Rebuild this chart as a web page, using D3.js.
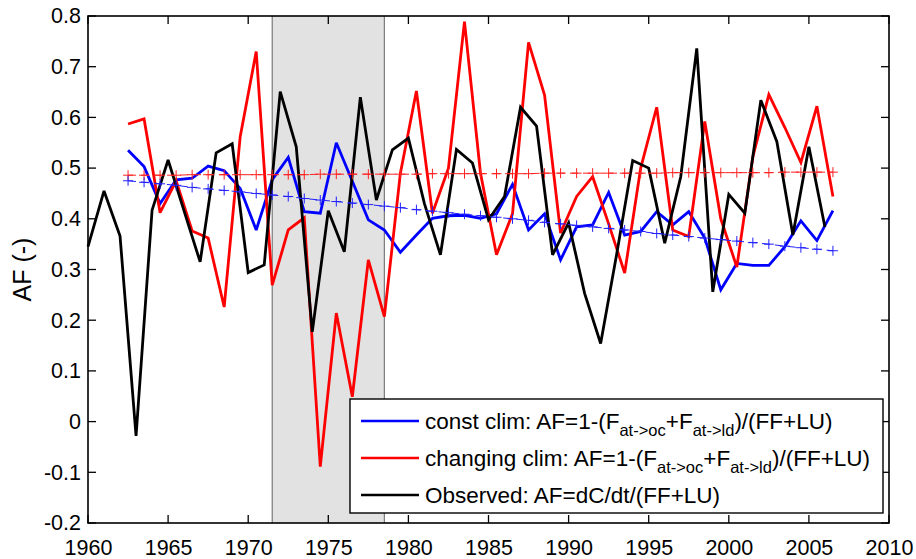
<!DOCTYPE html>
<html>
<head>
<meta charset="utf-8">
<script src="https://cdn.jsdelivr.net/npm/d3@7/dist/d3.min.js"></script>
<style>
  html, body { margin: 0; padding: 0; background: #fff; }
  svg { display: block; }
  text { font-family: "Liberation Sans", Arial, Helvetica, sans-serif; fill: #000; }
</style>
</head>
<body>
<svg id="chart" width="916" height="559"></svg>
<script>
// ---------------- data ----------------
const obsYears = d3.range(1960, 2007);           // integer years 1960..2006
const observed = [0.345, 0.455, 0.366, -0.028, 0.417, 0.516, 0.415, 0.315, 0.530, 0.548,
                  0.294, 0.309, 0.651, 0.542, 0.177, 0.416, 0.335, 0.640, 0.437, 0.536,
                  0.559, 0.430, 0.329, 0.537, 0.510, 0.398, 0.444, 0.620, 0.583, 0.329,
                  0.392, 0.253, 0.154, 0.330, 0.515, 0.500, 0.352, 0.483, 0.736, 0.256,
                  0.448, 0.411, 0.634, 0.552, 0.368, 0.542, 0.384];

const modelYears = d3.range(1962.5, 2007, 1);    // 1962.5..2006.5
const constClim = [0.535, 0.503, 0.430, 0.477, 0.480, 0.504, 0.495, 0.460, 0.378, 0.477,
                   0.521, 0.414, 0.411, 0.550, 0.474, 0.398, 0.378, 0.334, 0.368, 0.401,
                   0.406, 0.407, 0.401, 0.410, 0.468, 0.378, 0.410, 0.319, 0.384, 0.388,
                   0.452, 0.368, 0.375, 0.414, 0.388, 0.414, 0.362, 0.260, 0.312, 0.308,
                   0.308, 0.345, 0.396, 0.357, 0.416];
const changingClim = [0.587, 0.597, 0.412, 0.475, 0.376, 0.362, 0.226, 0.562, 0.730, 0.269,
                      0.378, 0.402, -0.089, 0.214, 0.049, 0.319, 0.207, 0.490, 0.652, 0.411,
                      0.500, 0.789, 0.490, 0.329, 0.410, 0.748, 0.644, 0.372, 0.444, 0.483,
                      0.390, 0.293, 0.500, 0.620, 0.378, 0.365, 0.592, 0.400, 0.305, 0.522,
                      0.645, 0.580, 0.511, 0.622, 0.444];
const constTrend = [0.475, 0.472, 0.469, 0.466, 0.462, 0.459, 0.456, 0.453, 0.450, 0.447,
                    0.444, 0.440, 0.437, 0.434, 0.431, 0.428, 0.425, 0.422, 0.418, 0.415,
                    0.412, 0.409, 0.406, 0.403, 0.400, 0.397, 0.393, 0.390, 0.387, 0.384,
                    0.381, 0.378, 0.375, 0.371, 0.368, 0.365, 0.362, 0.359, 0.356, 0.353,
                    0.350, 0.346, 0.343, 0.340, 0.337];
const changingTrend = [0.486, 0.486, 0.486, 0.486, 0.487, 0.487, 0.487, 0.487, 0.487, 0.487,
                       0.487, 0.487, 0.488, 0.488, 0.488, 0.488, 0.488, 0.488, 0.488, 0.489,
                       0.489, 0.489, 0.489, 0.489, 0.489, 0.489, 0.490, 0.490, 0.490, 0.490,
                       0.490, 0.490, 0.490, 0.490, 0.491, 0.491, 0.491, 0.491, 0.491, 0.491,
                       0.491, 0.492, 0.492, 0.492, 0.492];
const shadeRange = [1971.5, 1978.5];
const xTicks = [1960, 1965, 1970, 1975, 1980, 1985, 1990, 1995, 2000, 2005, 2010];
const yTicks = [-0.2, -0.1, 0, 0.1, 0.2, 0.3, 0.4, 0.5, 0.6, 0.7, 0.8];
const yTickLabels = ["-0.2", "-0.1", "0", "0.1", "0.2", "0.3", "0.4", "0.5", "0.6", "0.7", "0.8"];
const yLabel = "AF (-)";

// ---------------- layout ----------------
const L = 88, R = 889, T = 16, B = 523;
const svg = d3.select("#chart");
svg.append("rect").attr("width", 916).attr("height", 559).attr("fill", "#fff");

const x = d3.scaleLinear().domain([1960, 2010]).range([L, R]);
const y = d3.scaleLinear().domain([-0.2, 0.8]).range([B, T]);

// shaded period
svg.append("rect")
  .attr("x", x(shadeRange[0])).attr("y", T)
  .attr("width", x(shadeRange[1]) - x(shadeRange[0])).attr("height", B - T)
  .attr("fill", "#e2e2e2");
shadeRange.forEach(v => {
  svg.append("line").attr("x1", x(v)).attr("x2", x(v)).attr("y1", T).attr("y2", B)
    .attr("stroke", "#7a7a7a").attr("stroke-width", 1.2);
});

const line = d3.line().x(d => x(d[0])).y(d => y(d[1]));
function series(xs, ys, color, w) {
  svg.append("path").datum(xs.map((v, i) => [v, ys[i]]))
    .attr("d", line).attr("fill", "none").attr("stroke", color)
    .attr("stroke-width", w).attr("stroke-linejoin", "miter").attr("stroke-miterlimit", 3);
}
series(modelYears, constClim, "#0000ff", 2.8);
series(modelYears, changingClim, "#ff0000", 2.8);
series(obsYears, observed, "#000000", 2.8);

function trend(xs, ys, color) {
  const pts = xs.map((v, i) => [v, ys[i]]);
  svg.append("path").datum(pts).attr("d", line).attr("fill", "none")
    .attr("stroke", color).attr("stroke-width", 1).attr("stroke-dasharray", "8,5");
  const s = 5;
  svg.append("g").selectAll("path").data(pts).join("path")
    .attr("d", d => `M${x(d[0]) - s},${y(d[1])}H${x(d[0]) + s}M${x(d[0])},${y(d[1]) - s}V${y(d[1]) + s}`)
    .attr("stroke", color).attr("stroke-width", 1).attr("fill", "none");
}
trend(modelYears, changingTrend, "#ff2020");
trend(modelYears, constTrend, "#2020ff");

// ---------------- axes ----------------
const tickLen = 8;
const axBottom = d3.axisBottom(x).tickValues(xTicks).tickSize(0).tickPadding(12).tickFormat(d3.format("d"));
const axLeft = d3.axisLeft(y).tickValues(yTicks).tickSize(0).tickPadding(7).tickFormat((d, i) => yTickLabels[i]);

const gx = svg.append("g").attr("transform", `translate(0,${B})`).call(axBottom);
const gy = svg.append("g").attr("transform", `translate(${L},0)`).call(axLeft);
[gx, gy].forEach(g => {
  g.select(".domain").remove();
  g.selectAll("text").attr("font-size", 21.5).attr("font-family", '"Liberation Sans", Arial, sans-serif').attr("fill", "#000");
});
gx.selectAll("text").attr("dy", "0.93em");

// inward ticks on all four sides
const tk = svg.append("g").attr("stroke", "#000").attr("stroke-width", 1.3);
xTicks.forEach(v => {
  tk.append("line").attr("x1", x(v)).attr("x2", x(v)).attr("y1", B).attr("y2", B - tickLen);
  tk.append("line").attr("x1", x(v)).attr("x2", x(v)).attr("y1", T).attr("y2", T + tickLen);
});
yTicks.forEach(v => {
  tk.append("line").attr("x1", L).attr("x2", L + tickLen).attr("y1", y(v)).attr("y2", y(v));
  tk.append("line").attr("x1", R).attr("x2", R - tickLen).attr("y1", y(v)).attr("y2", y(v));
});

// axes box
svg.append("rect").attr("x", L).attr("y", T).attr("width", R - L).attr("height", B - T)
  .attr("fill", "none").attr("stroke", "#000").attr("stroke-width", 1.6);

// y label
svg.append("text").attr("transform", `translate(31,${(T + B) / 2}) rotate(-90)`)
  .attr("text-anchor", "middle").attr("font-size", 25).text(yLabel);

// ---------------- legend ----------------
const lg = svg.append("g");
lg.append("rect").attr("x", 350).attr("y", 399).attr("width", 533).attr("height", 114)
  .attr("fill", "#fff").attr("stroke", "#000").attr("stroke-width", 1.4);

const legendItems = [
  { color: "#0000ff", parts: [["const clim: AF=1-(F", 0], ["at->oc", 1], ["+F", 0], ["at->ld", 1], [")/(FF+LU)", 0]] },
  { color: "#ff0000", parts: [["changing clim: AF=1-(F", 0], ["at->oc", 1], ["+F", 0], ["at->ld", 1], [")/(FF+LU)", 0]] },
  { color: "#000000", parts: [["Observed: AF=dC/dt/(FF+LU)", 0]] }
];
const rowY = [421, 458, 495];
legendItems.forEach((it, i) => {
  const yy = rowY[i];
  lg.append("line").attr("x1", 361).attr("x2", 419).attr("y1", yy).attr("y2", yy)
    .attr("stroke", it.color).attr("stroke-width", 2.6);
  const t = lg.append("text").attr("x", 425).attr("y", yy + 8).attr("font-size", 22.5);
  let prevSub = 0;
  it.parts.forEach(([s, sub]) => {
    const dy = sub === prevSub ? 0 : (sub ? 7 : -7);
    t.append("tspan").attr("dy", dy).attr("font-size", sub ? 16.5 : 22.5).text(s);
    prevSub = sub;
  });
});
</script>
</body>
</html>
